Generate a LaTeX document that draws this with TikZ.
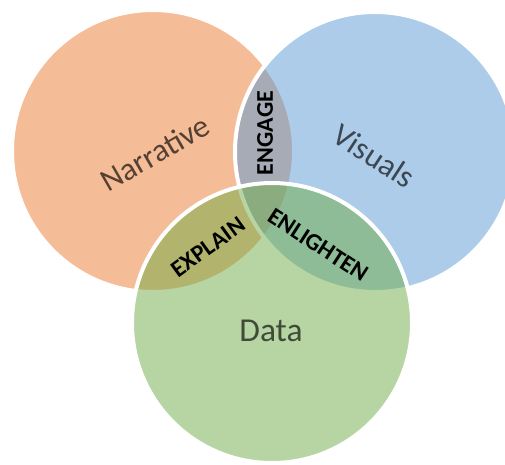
\documentclass[tikz,border=0pt]{standalone}
\usepackage{fontspec}
\setmainfont{Carlito}
\definecolor{setOrange}{HTML}{ED7D31}
\definecolor{setBlue}{HTML}{5B9BD5}
\definecolor{setGreen}{HTML}{70AD47}
\begin{document}
\begin{tikzpicture}[x=1pt,y=-1pt,
  setdisc/.style={circle, inner sep=0pt, outer sep=0pt, minimum size=#1,
    draw=white, line width=4pt, fill opacity=0.5},
  setname/.style={font=\fontsize{#1}{36}\selectfont, text=black, text opacity=0.65,
    inner sep=0pt},
  setname/.default=32,
  overlapname/.style={font=\fontsize{24}{28}\selectfont\bfseries, text=black,
    inner sep=0pt}]
\useasboundingbox (0,0) rectangle (505,464);
\fill[white] (0,0) rectangle (505,464);
\clip (0,0) rectangle (505,464);

% three half-transparent discs, each ringed in white
\node[setdisc=282pt, fill=setOrange] (narrative) at (153,151) {};
\node[setdisc=280pt, fill=setBlue]   (visuals)   at (375,152) {};
\node[setdisc=280pt, fill=setGreen]  (data)      at (272,323) {};

% set names
\node[setname, rotate=30]  (narrativeLabel) at (155,153) {Narrative};
\node[setname, rotate=-33] (visualsLabel)   at (374,156) {Visuals};
\node[setname=33.5]        (dataLabel)      at (271,331) {Data};

% overlap names
\node[overlapname, rotate=90]  (engage)    at (265,133) {ENGAGE};
\node[overlapname, rotate=36]  (explain)   at (208,247) {EXPLAIN};
\node[overlapname, rotate=-33] (enlighten) at (318,245) {ENLIGHTEN};
\end{tikzpicture}
\end{document}
